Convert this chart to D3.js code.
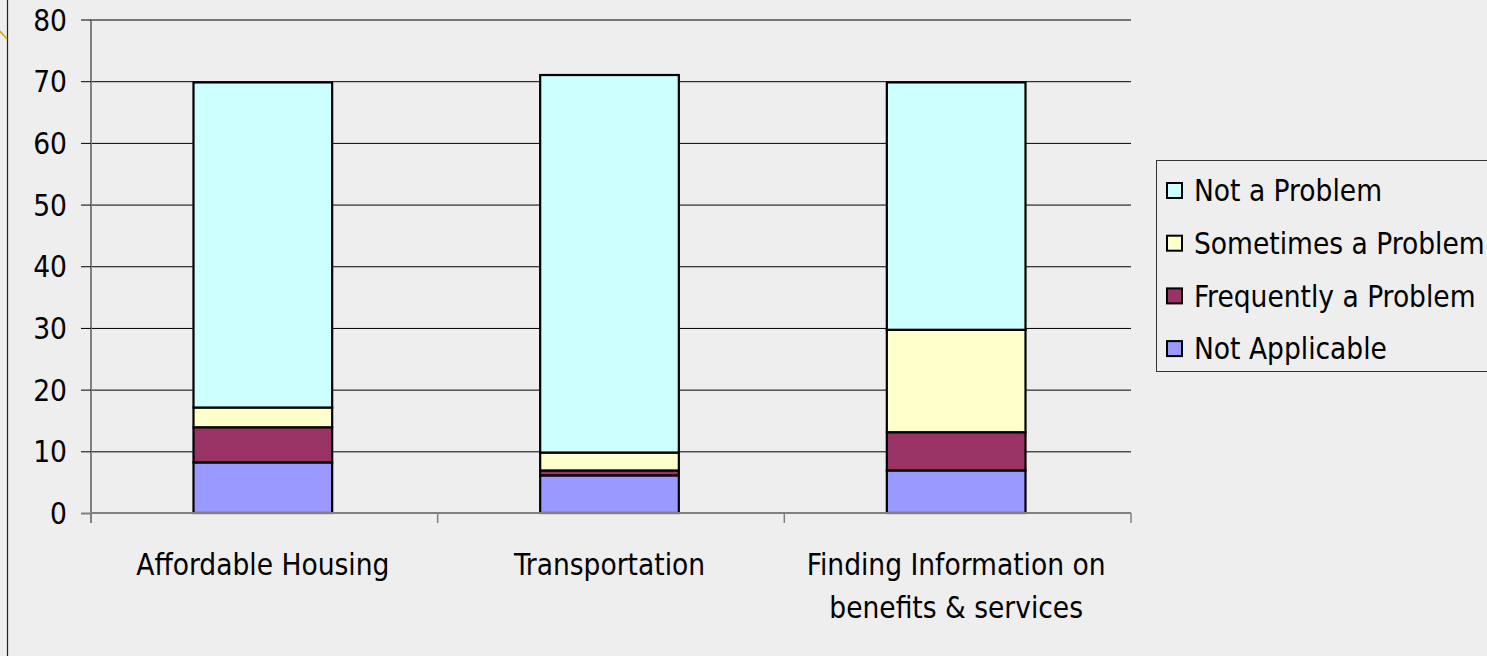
<!DOCTYPE html>
<html>
<head>
<meta charset="utf-8">
<script src="https://cdn.jsdelivr.net/npm/d3@7"></script>
<style>
  html, body { margin: 0; padding: 0; background: #eeeeee; }
  svg { display: block; }
  text { font-family: "DejaVu Sans Condensed", "DejaVu Sans", sans-serif; fill: #000; }
</style>
</head>
<body>
<svg id="chart" width="1487" height="656"></svg>
<script>
// ---- data ----
const categories = ["Affordable Housing", "Transportation", "Finding Information on benefits & services"];
const categoryLabelLines = [["Affordable Housing"], ["Transportation"], ["Finding Information on", "benefits & services"]];
const seriesNames = ["Not Applicable", "Frequently a Problem", "Sometimes a Problem", "Not a Problem"];
const notApplicable = [8.2, 6.1, 6.9];
const frequentlyAProblem = [5.7, 0.8, 6.2];
const sometimesAProblem = [3.2, 2.9, 16.6];
const notAProblem = [52.7, 61.2, 40.1];
const yTicks = [0, 10, 20, 30, 40, 50, 60, 70, 80];
const seriesColors = ["#9999ff", "#993366", "#ffffcc", "#ccffff"];

// ---- build table ----
const seriesValues = [notApplicable, frequentlyAProblem, sometimesAProblem, notAProblem];
const table = categories.map((c, i) => {
  const row = { category: c };
  seriesNames.forEach((s, j) => { row[s] = seriesValues[j][i]; });
  return row;
});
const stacked = d3.stack().keys(seriesNames)(table);

const svg = d3.select("#chart");
const W = 1487, H = 656;
const FS = "29.5px";
const plot = { left: 91, right: 1131, top: 19.5, bottom: 513 };

const x = d3.scaleBand().domain(categories).range([plot.left, plot.right]).paddingInner(0.6).paddingOuter(0.3);
const y = d3.scaleLinear().domain([0, 80]).range([plot.bottom, plot.top]);
const color = d3.scaleOrdinal().domain(seriesNames).range(seriesColors);

// slide decorations
svg.append("line").attr("x1", 7.5).attr("x2", 7.5).attr("y1", 0).attr("y2", H)
  .attr("stroke", "#222").attr("stroke-width", 1.2);
svg.append("line").attr("x1", 0).attr("y1", 31).attr("x2", 7).attr("y2", 39)
  .attr("stroke", "#dca41c").attr("stroke-width", 1.5);

// gridlines
const grid = svg.append("g").attr("transform", `translate(${plot.left},0)`)
  .call(d3.axisLeft(y).tickValues(yTicks.filter(t => t > 0)).tickSize(-(plot.right - plot.left)).tickFormat(""));
grid.select(".domain").remove();
grid.selectAll(".tick line").attr("stroke", "#000").attr("stroke-width", 1);

// y axis
const yAxis = svg.append("g").attr("transform", `translate(${plot.left},0)`)
  .call(d3.axisLeft(y).tickValues(yTicks).tickSize(10).tickPadding(14));
yAxis.select(".domain").attr("stroke", "#808080").attr("stroke-width", 2)
  .attr("d", `M0,${plot.top}V${plot.bottom + 10}`);
yAxis.selectAll(".tick line").attr("stroke", "#000");
yAxis.selectAll(".tick").filter(d => d === 0).select("line").attr("stroke", "#808080").attr("stroke-width", 2);
yAxis.selectAll("text").style("font-size", FS).attr("dy", "0.36em")
  .style("font-family", "\"DejaVu Sans Condensed\", \"DejaVu Sans\", sans-serif");

// bars
const layers = svg.append("g").selectAll("g").data(stacked).join("g")
  .attr("fill", d => color(d.key));
layers.selectAll("rect").data(d => d).join("rect")
  .attr("x", d => x(d.data.category) - 1.5)
  .attr("width", x.bandwidth())
  .attr("y", d => y(d[1]))
  .attr("height", d => y(d[0]) - y(d[1]))
  .attr("stroke", "#000").attr("stroke-width", 2.2);

// x axis
const xAxisG = svg.append("g");
xAxisG.append("line").attr("x1", plot.left).attr("x2", plot.right)
  .attr("y1", plot.bottom).attr("y2", plot.bottom).attr("stroke", "#808080").attr("stroke-width", 2);
const boundaries = d3.range(categories.length + 1).map(i => x.range()[0] + i * x.step());
xAxisG.selectAll("line.bt").data(boundaries.slice(1)).join("line").attr("class", "bt")
  .attr("x1", d => d).attr("x2", d => d).attr("y1", plot.bottom).attr("y2", plot.bottom + 10)
  .attr("stroke", "#808080").attr("stroke-width", 1.5);
const labels = xAxisG.selectAll("text").data(categories).join("text")
  .attr("text-anchor", "middle")
  .attr("x", d => x(d) + x.bandwidth() / 2)
  .attr("y", 575)
  .style("font-size", FS);
labels.each(function(d, i) {
  const t = d3.select(this);
  categoryLabelLines[i].forEach((ln, k) => {
    t.append("tspan").attr("x", x(d) + x.bandwidth() / 2 - 1.5).attr("dy", k === 0 ? 0 : 43).text(ln);
  });
});

// legend
const legend = svg.append("g");
legend.append("rect").attr("x", 1156.5).attr("y", 160.5).attr("width", 400).attr("height", 211)
  .attr("fill", "#eeeeee").attr("stroke", "#333").attr("stroke-width", 1);
const legendOrder = seriesNames.slice().reverse();
const li = legend.selectAll("g.item").data(legendOrder).join("g").attr("class", "item")
  .attr("transform", (d, i) => `translate(1167, ${190.5 + i * 52.7})`);
li.append("rect").attr("x", 0).attr("y", -7.5).attr("width", 15).attr("height", 15)
  .attr("fill", d => color(d)).attr("stroke", "#000").attr("stroke-width", 2);
li.append("text").attr("x", 27).attr("y", 0).attr("dy", "0.36em")
  .style("font-size", FS).text(d => d);
</script>
</body>
</html>
